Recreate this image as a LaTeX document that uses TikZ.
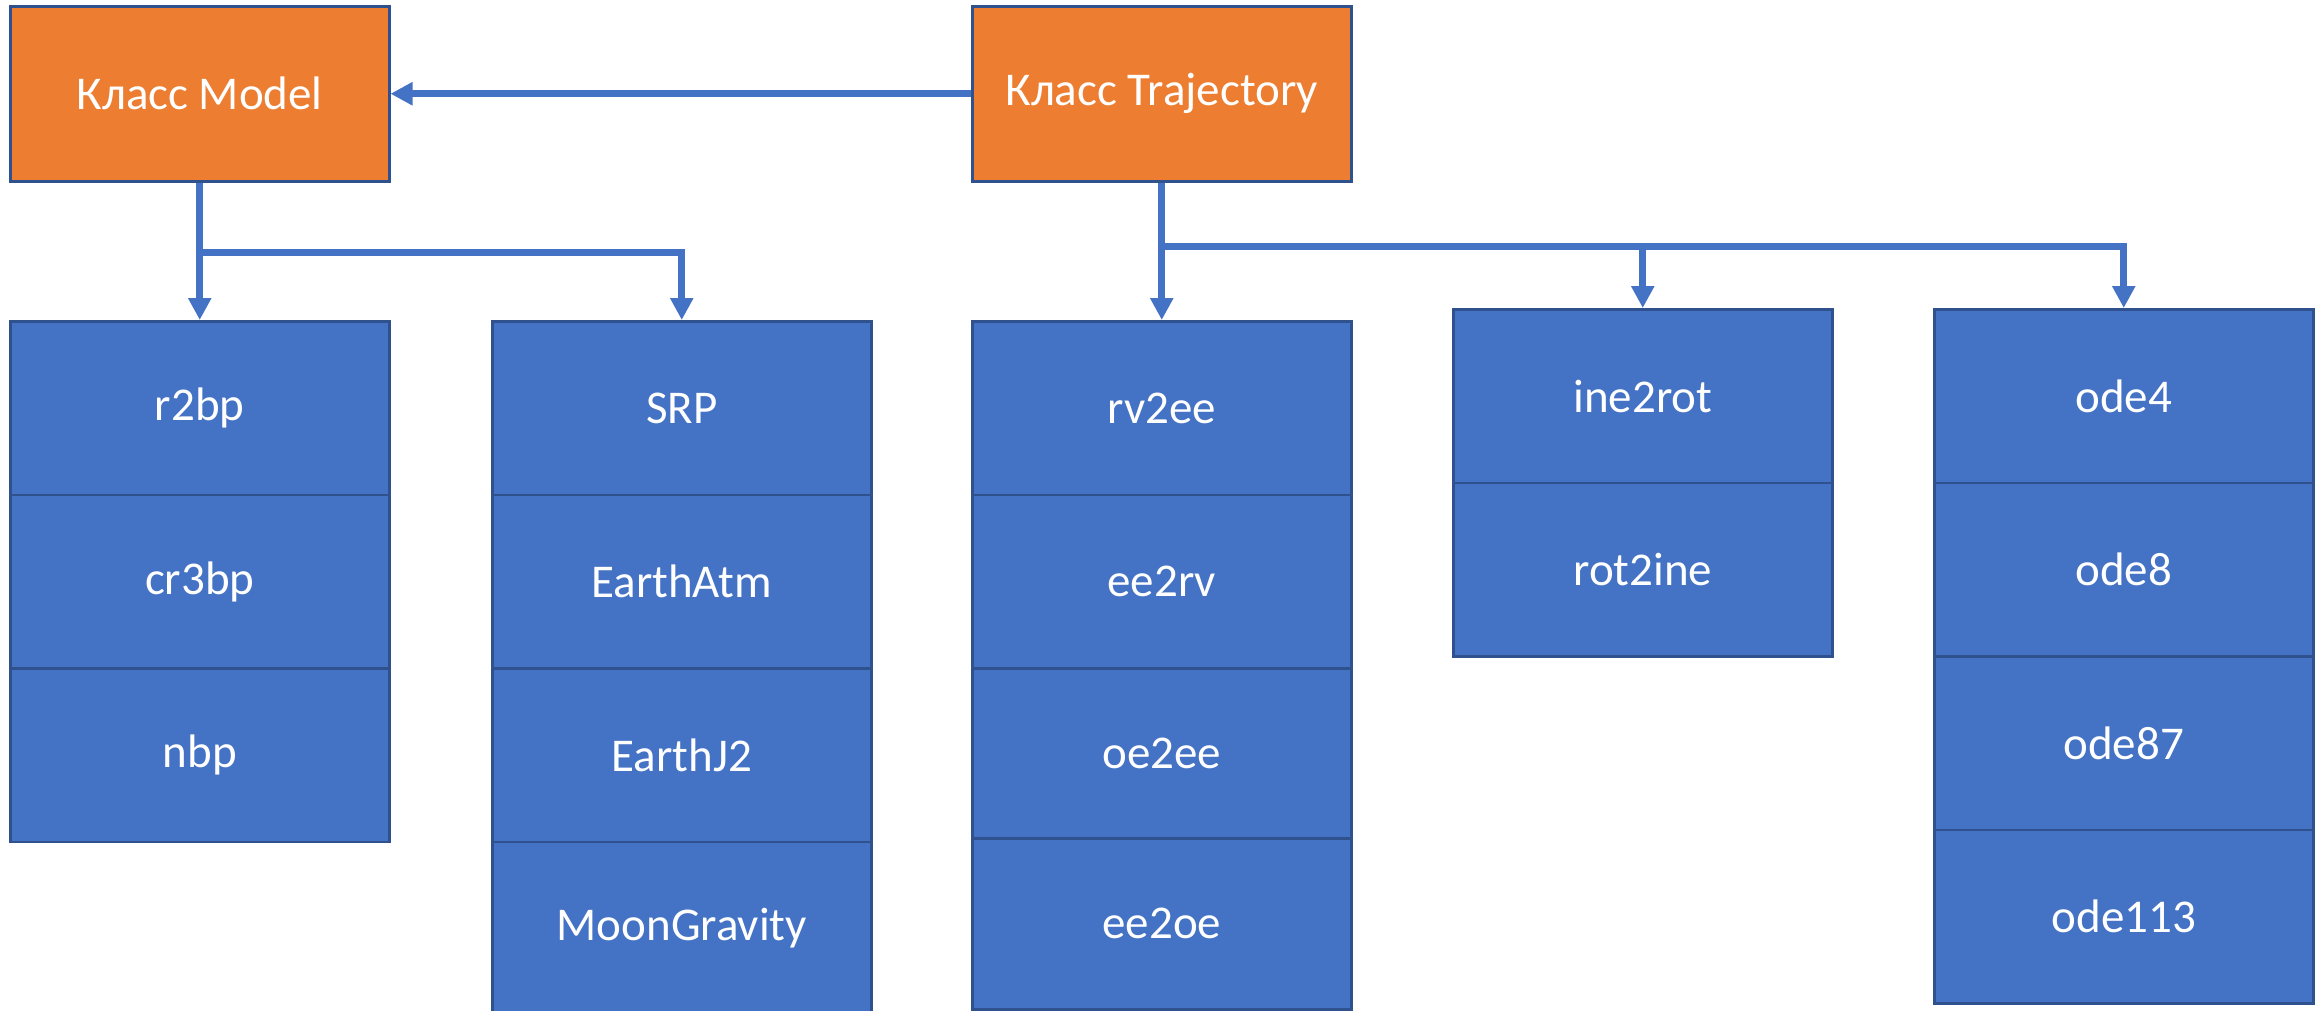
\documentclass[tikz,border=0pt]{standalone}
\usepackage{fontspec}
\setmainfont{Carlito}
\usetikzlibrary{arrows.meta}
\definecolor{cellblue}{HTML}{4472C4}
\definecolor{edgeblue}{HTML}{2F528F}
\definecolor{clsorange}{HTML}{ED7D31}
\tikzset{
  cell/.style={draw=edgeblue, line width=2.5pt, fill=cellblue, text=white,
    minimum width=379pt, minimum height=173.5pt, inner sep=0pt,
    anchor=north west, font=\fontsize{47}{56}\selectfont},
  clsbox/.style={cell, fill=clsorange, minimum height=175pt},
  conn/.style={draw=cellblue, line width=7pt, -{Triangle[length=22pt,width=22pt]}}
}
\begin{document}
\begin{tikzpicture}[x=1pt,y=-1pt]
\useasboundingbox (0,0) rectangle (2323,1010);
% class boxes
\node[clsbox] (model) at (9,5) {Класс Model};
\node[clsbox] (traj) at (971,5) {Класс Trajectory};
% column 1
\node[cell] (r2bp) at (9,320) {r2bp};
\node[cell] (cr3bp) at (9,493.5) {cr3bp};
\node[cell] (nbp) at (9,667) {nbp};
% column 2
\node[cell] (srp) at (491,320) {SRP};
\node[cell] (atm) at (491,493.5) {EarthAtm};
\node[cell] (j2) at (491,667) {EarthJ2};
\node[cell] (moon) at (491,840.5) {MoonGravity};
% column 3
\node[cell] (rv2ee) at (971,320) {rv2ee};
\node[cell] (ee2rv) at (971,493.5) {ee2rv};
\node[cell, minimum height=170pt] (oe2ee) at (971,667) {oe2ee};
\node[cell, minimum height=171pt] (ee2oe) at (971,837) {ee2oe};
% column 4
\node[cell] (ine) at (1452,308) {ine2rot};
\node[cell] (rot) at (1452,481.5) {rot2ine};
% column 5
\node[cell] (ode4) at (1933,308) {ode4};
\node[cell] (ode8) at (1933,481.5) {ode8};
\node[cell] (ode87) at (1933,655) {ode87};
\node[cell] (ode113) at (1933,828.5) {ode113};
% connectors
\draw[conn] (traj.west) -- (model.east);
\path (model.south) ++(0,70) coordinate (mj);
\draw[conn] (model.south) -- (r2bp.north);
\draw[conn] (mj) -| (srp.north);
\path (traj.south) ++(0,64) coordinate (tj);
\draw[conn] (traj.south) -- (rv2ee.north);
\draw[conn] (tj) -| (ine.north);
\draw[conn] (tj) -| (ode4.north);
\end{tikzpicture}
\end{document}
